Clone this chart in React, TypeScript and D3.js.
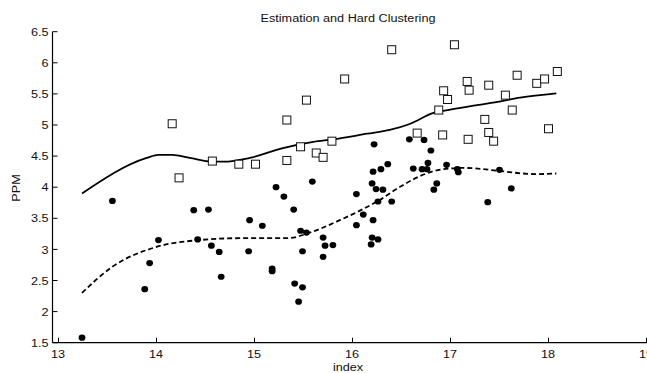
import React from "react";
import * as d3 from "d3";

// Cluster 1 (filled dots): index vs PPM
const dotX = [13.24, 13.55, 13.88, 13.93, 14.02, 14.38, 14.42, 14.53, 14.56, 14.64, 14.66, 14.94, 14.95, 15.08, 15.18, 15.18, 15.22, 15.30, 15.40, 15.41, 15.45, 15.47, 15.49, 15.49, 15.53, 15.59, 15.70, 15.70, 15.72, 15.80, 16.04, 16.04, 16.11, 16.20, 16.19, 16.20, 16.21, 16.21, 16.22, 16.24, 16.26, 16.26, 16.29, 16.31, 16.36, 16.40, 16.58, 16.62, 16.71, 16.73, 16.76, 16.77, 16.80, 16.83, 16.86, 16.96, 17.07, 17.08, 17.38, 17.50, 17.62];
const dotY = [1.58, 3.78, 2.36, 2.78, 3.15, 3.63, 3.16, 3.64, 3.06, 2.96, 2.56, 2.97, 3.47, 3.38, 2.69, 2.65, 4.00, 3.85, 3.64, 2.45, 2.16, 3.30, 2.97, 2.39, 3.27, 4.09, 2.88, 3.19, 3.06, 3.07, 3.89, 3.39, 3.56, 4.06, 3.08, 3.19, 4.25, 3.47, 4.69, 3.97, 3.77, 3.16, 4.29, 3.96, 4.37, 3.77, 4.77, 4.30, 4.29, 4.76, 4.29, 4.39, 4.59, 3.96, 4.06, 4.36, 4.29, 4.24, 3.76, 4.28, 3.98];

// Cluster 2 (open squares)
const sqX = [14.16, 14.23, 14.57, 14.84, 15.01, 15.33, 15.33, 15.47, 15.53, 15.63, 15.70, 15.79, 15.92, 16.40, 16.66, 16.88, 16.92, 16.93, 16.97, 17.04, 17.17, 17.19, 17.18, 17.35, 17.39, 17.39, 17.44, 17.56, 17.63, 17.68, 17.88, 17.96, 18.00, 18.09];
const sqY = [5.02, 4.15, 4.42, 4.37, 4.37, 4.43, 5.08, 4.65, 5.40, 4.55, 4.48, 4.74, 5.74, 6.21, 4.87, 5.24, 4.84, 5.55, 5.41, 6.29, 5.70, 5.56, 4.77, 5.09, 5.64, 4.88, 4.74, 5.48, 5.24, 5.80, 5.67, 5.74, 4.94, 5.86];

// Estimated curve for the upper cluster (solid)
const upperX = [13.24, 13.90, 14.02, 14.16, 14.34, 14.57, 14.68, 14.95, 15.29, 15.60, 15.80, 16.15, 16.38, 16.59, 16.82, 17.01, 17.27, 17.51, 17.71, 18.08];
const upperY = [3.90, 4.47, 4.52, 4.52, 4.47, 4.41, 4.41, 4.47, 4.63, 4.73, 4.77, 4.86, 4.92, 5.02, 5.19, 5.25, 5.32, 5.38, 5.44, 5.51];

// Estimated curve for the lower cluster (dashed)
const lowerX = [13.24, 13.54, 14.00, 14.44, 14.85, 15.33, 15.60, 15.87, 16.25, 16.50, 16.72, 16.93, 17.13, 17.51, 17.74, 17.88, 18.08];
const lowerY = [2.30, 2.71, 3.04, 3.15, 3.18, 3.18, 3.29, 3.47, 3.77, 4.02, 4.20, 4.29, 4.31, 4.26, 4.22, 4.21, 4.22];

const xTicks = [13, 14, 15, 16, 17, 18, 19];
const yTicks = [1.5, 2, 2.5, 3, 3.5, 4, 4.5, 5, 5.5, 6, 6.5];

const W = 647;
const H = 373;
const FONT = "'Liberation Sans', Arial, Helvetica, sans-serif";
const FS = 11.5;
const SX = 1.1;

type LabelProps = {
  x: number;
  y: number;
  anchor?: "start" | "middle" | "end";
  dy?: string;
  rotate?: number;
  children: React.ReactNode;
};

// Text with a slight horizontal stretch, as in the chart's typeface
function Label({ x, y, anchor = "middle", dy, rotate = 0, children }: LabelProps) {
  return (
    <text
      transform={`translate(${x},${y}) rotate(${rotate}) scale(${SX},1)`}
      textAnchor={anchor}
      dy={dy}
      fontSize={FS}
      fill="#111"
    >
      {children}
    </text>
  );
}

export default function App() {
  const x = d3.scaleLinear().domain([13, 19]).range([58.5, 646.5]);
  const y = d3.scaleLinear().domain([1.5, 6.5]).range([342.7, 31.7]);
  const axisLeft = 52.5;
  const axisBottom = y(1.5);

  const line = d3
    .line<[number, number]>()
    .x((d) => x(d[0]))
    .y((d) => y(d[1]))
    .curve(d3.curveMonotoneX);

  const upper = line(upperX.map((v, i) => [v, upperY[i]] as [number, number])) || "";
  const lower = line(lowerX.map((v, i) => [v, lowerY[i]] as [number, number])) || "";

  const sq = 8;

  return (
    <svg
      width={W}
      height={H}
      style={{ position: "fixed", left: 0, top: 0, background: "#fff" }}
      fontFamily={FONT}
    >
      <rect x={0} y={0} width={W} height={H} fill="#fff" />

      <Label x={348} y={21.5}>Estimation and Hard Clustering</Label>

      {/* axes */}
      <line x1={axisLeft} x2={axisLeft} y1={y(6.5)} y2={axisBottom} stroke="#000" strokeWidth={1.2} />
      <line x1={axisLeft} x2={W} y1={axisBottom} y2={axisBottom} stroke="#000" strokeWidth={1.2} />

      {yTicks.map((t) => (
        <g key={"y" + t}>
          <line x1={axisLeft} x2={axisLeft + 5} y1={y(t)} y2={y(t)} stroke="#000" strokeWidth={1} />
          <Label x={48.5} y={y(t)} dy="0.36em" anchor="end">
            {String(t)}
          </Label>
        </g>
      ))}

      {xTicks.map((t) => (
        <g key={"x" + t}>
          <line x1={x(t)} x2={x(t)} y1={axisBottom} y2={axisBottom - 5} stroke="#000" strokeWidth={1} />
          <Label x={x(t) - 0.5} y={357.5}>
            {String(t)}
          </Label>
        </g>
      ))}

      <Label x={348} y={370.5}>index</Label>
      <Label x={20} y={188} rotate={-90}>PPM</Label>

      {/* estimated curves */}
      <path d={upper} fill="none" stroke="#000" strokeWidth={1.8} />
      <path d={lower} fill="none" stroke="#000" strokeWidth={1.8} strokeDasharray="5,3" />

      {/* cluster markers */}
      {sqX.map((v, i) => (
        <rect
          key={"s" + i}
          x={x(v) - sq / 2}
          y={y(sqY[i]) - sq / 2}
          width={sq}
          height={sq}
          fill="#fff"
          stroke="#111"
          strokeWidth={1}
        />
      ))}
      {dotX.map((v, i) => (
        <ellipse key={"d" + i} cx={x(v)} cy={y(dotY[i])} rx={3.4} ry={3.1} fill="#000" />
      ))}
    </svg>
  );
}
